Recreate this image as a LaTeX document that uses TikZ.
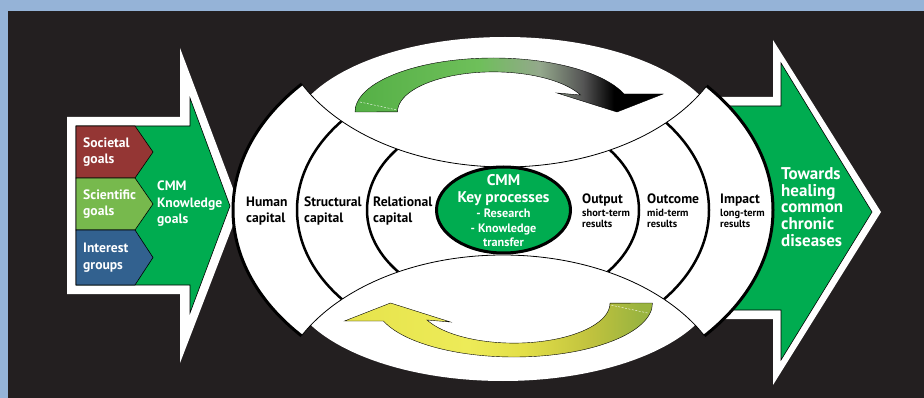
\documentclass[tikz,border=0pt]{standalone}
\usepackage{fontspec}
\setmainfont{PT Sans}
\usetikzlibrary{shapes.geometric}

\definecolor{bgblue}{HTML}{95B3D7}
\definecolor{bgdark}{HTML}{231F20}
\definecolor{cmmgreen}{HTML}{00AC50}
\definecolor{socred}{HTML}{943634}
\definecolor{scigreen}{HTML}{77B94D}
\definecolor{intblue}{HTML}{32618F}
\definecolor{tgA}{HTML}{55B046}
\definecolor{tgB}{HTML}{6EBF5A}
\definecolor{tgC}{HTML}{94A88C}
\definecolor{tgD}{HTML}{555555}
\definecolor{bgA}{HTML}{E6E34C}
\definecolor{bgB}{HTML}{EDEB58}
\definecolor{bgC}{HTML}{E3DF48}
\definecolor{bgD}{HTML}{C0C23E}
\definecolor{bgE}{HTML}{9AB43F}

% shadings of the two turning arrows
\pgfdeclarehorizontalshading{topgrad}{100bp}{color(0bp)=(tgA); color(25bp)=(tgA); color(45bp)=(tgB); color(55bp)=(tgC); color(62bp)=(tgD); color(67bp)=(black); color(100bp)=(black)}
\pgfdeclarehorizontalshading{botgrad}{100bp}{color(0bp)=(bgA); color(25bp)=(bgA); color(45bp)=(bgB); color(54bp)=(bgC); color(65bp)=(bgD); color(73bp)=(bgE); color(100bp)=(bgE)}

% small text under the ring titles and in the core
\newcommand{\smalltxt}{\fontsize{10.4}{11.5}\selectfont}
\newcommand{\coretxt}{\fontsize{12.2}{14}\selectfont}

\begin{document}
\begin{tikzpicture}[x=1pt,y=-1pt]
\tikzset{
% labels: black ones on the rings, white ones on the coloured parts
lbl/.style={anchor=west,inner sep=0,align=left,font=\fontsize{13.6}{16.5}\selectfont\bfseries},
wlbl/.style={lbl,text=white},
ring/.style={draw=black,line width=2.5},
chev/.style={draw=black,line width=0.6},
turn/.style={draw=black,line width=0.4},
tip/.style={white,dashed,line width=0.4,dash pattern=on 2pt off 1.5pt}
}
\useasboundingbox (0,0) rectangle (924,398);
\fill[bgblue] (0,0) rectangle (924,398);
\fill[bgdark] (8,11) rectangle (924,398);

% The input arrow
\fill[white] (67,117) -- (180,117) -- (180,48) -- (240,207) -- (180,363) -- (180,294) -- (67,294) -- cycle;
\filldraw[chev,fill=cmmgreen] (76,126) -- (190,126) -- (190,98) -- (230,206) -- (190,313) -- (190,285) -- (76,285) -- cycle;
\foreach \n/\ya/\yb/\c/\t in {soc/126/178/socred/{Societal\\goals},sci/178/230/scigreen/{Scientific\\goals},int/230/285/intblue/{Interest\\groups}}{
\filldraw[chev,fill=\c] (76,\ya) -- (135,\ya) -- (153,{(\ya+\yb)/2}) -- (135,\yb) -- (76,\yb) -- cycle;
\node[wlbl] (\n) at (83,{(\ya+\yb)/2}) {\t};
}
\node[wlbl] (kgoals) at (157,204) {CMM\\Knowledge\\goals};

% The output arrow
\fill[white] (720,97) -- (773,97) -- (773,40) -- (881,212) -- (773,385) -- (773,319) -- (720,319) -- cycle;
\filldraw[chev,fill=cmmgreen] (720,106) -- (781,106) -- (781,63) -- (872,212) -- (781,360) -- (781,310) -- (720,310) -- cycle;
\node[wlbl,font=\fontsize{17}{16.7}\selectfont\bfseries] (heal) at (781,207) {Towards\\healing\\common\\chronic\\diseases};

% The rings, cut by the two bands
\begin{scope}[even odd rule]
\clip (0,0) rectangle (924,398) (505,17) ellipse[x radius=227,y radius=150];
\clip (0,0) rectangle (924,398) (503,405) ellipse[x radius=227,y radius=150];
\fill[white] (503,210) ellipse[x radius=270,y radius=189];
\draw[ring] (503,210) ellipse[x radius=206,y radius=143];
\draw[ring] (503,210) ellipse[x radius=136,y radius=97];
\draw[ring,line width=3] (503,210) ellipse[x radius=270,y radius=189];
\end{scope}

% The two bands
\begin{scope}
\clip (505,17) ellipse[x radius=227,y radius=150];
\fill[white] (505,140) ellipse[x radius=216,y radius=103];
\end{scope}
\begin{scope}
\clip (503,405) ellipse[x radius=227,y radius=150];
\fill[white] (503,278) ellipse[x radius=216,y radius=103];
\end{scope}
\begin{scope}
\clip (503,210) ellipse[x radius=270,y radius=189];
\draw[line width=0.8] (505,17) ellipse[x radius=227,y radius=150];
\draw[line width=0.8] (503,405) ellipse[x radius=227,y radius=150];
\end{scope}

% The turning arrows
\shadedraw[turn,shading=topgrad] (355,112) arc[start angle=180,end angle=340.5,x radius=138.5,y radius=54] -- (663,94) -- (617,112) -- (557,93) -- (580.5,95) arc[start angle=335,end angle=180,x radius=96,y radius=40] -- cycle;
\draw[tip] (360,102) -- (397,110);
\begin{scope}[rotate around={180:(503.75,207.5)}]
\shadedraw[turn,shading=botgrad] (355,112) arc[start angle=180,end angle=340.5,x radius=138.5,y radius=54] -- (663,94) -- (617,112) -- (557,93) -- (580.5,95) arc[start angle=335,end angle=180,x radius=96,y radius=40] -- cycle;
\draw[tip] (360,102) -- (397,110);
\end{scope}

% The core
\node[ellipse,draw=black,line width=3,fill=cmmgreen,minimum width=134,minimum height=86,inner sep=0] (core) at (503.5,210) {};
\node[align=center,inner sep=0,text=white,font=\fontsize{15.5}{16.5}\selectfont\bfseries] (keyp) at (503.5,210.5) {CMM\\Key processes\\[-1.5pt]\coretxt - Research\\[-1.5pt]\coretxt - Knowledge\\[-2.5pt]\coretxt transfer};

% The ring labels
\node[lbl] (human) at (246,211) {Human\\capital};
\node[lbl] (struct) at (304,211) {Structural\\capital};
\node[lbl] (relat) at (373,211) {Relational\\capital};
\node[lbl] (outp) at (582,211) {Output\\[-4pt]\smalltxt short-term\\[-5pt]\smalltxt results};
\node[lbl] (outc) at (647,211) {Outcome\\[-4pt]\smalltxt mid-term\\[-5pt]\smalltxt results};
\node[lbl] (imp) at (720,211) {Impact\\[-4pt]\smalltxt long-term\\[-5pt]\smalltxt results};
\end{tikzpicture}
\end{document}
